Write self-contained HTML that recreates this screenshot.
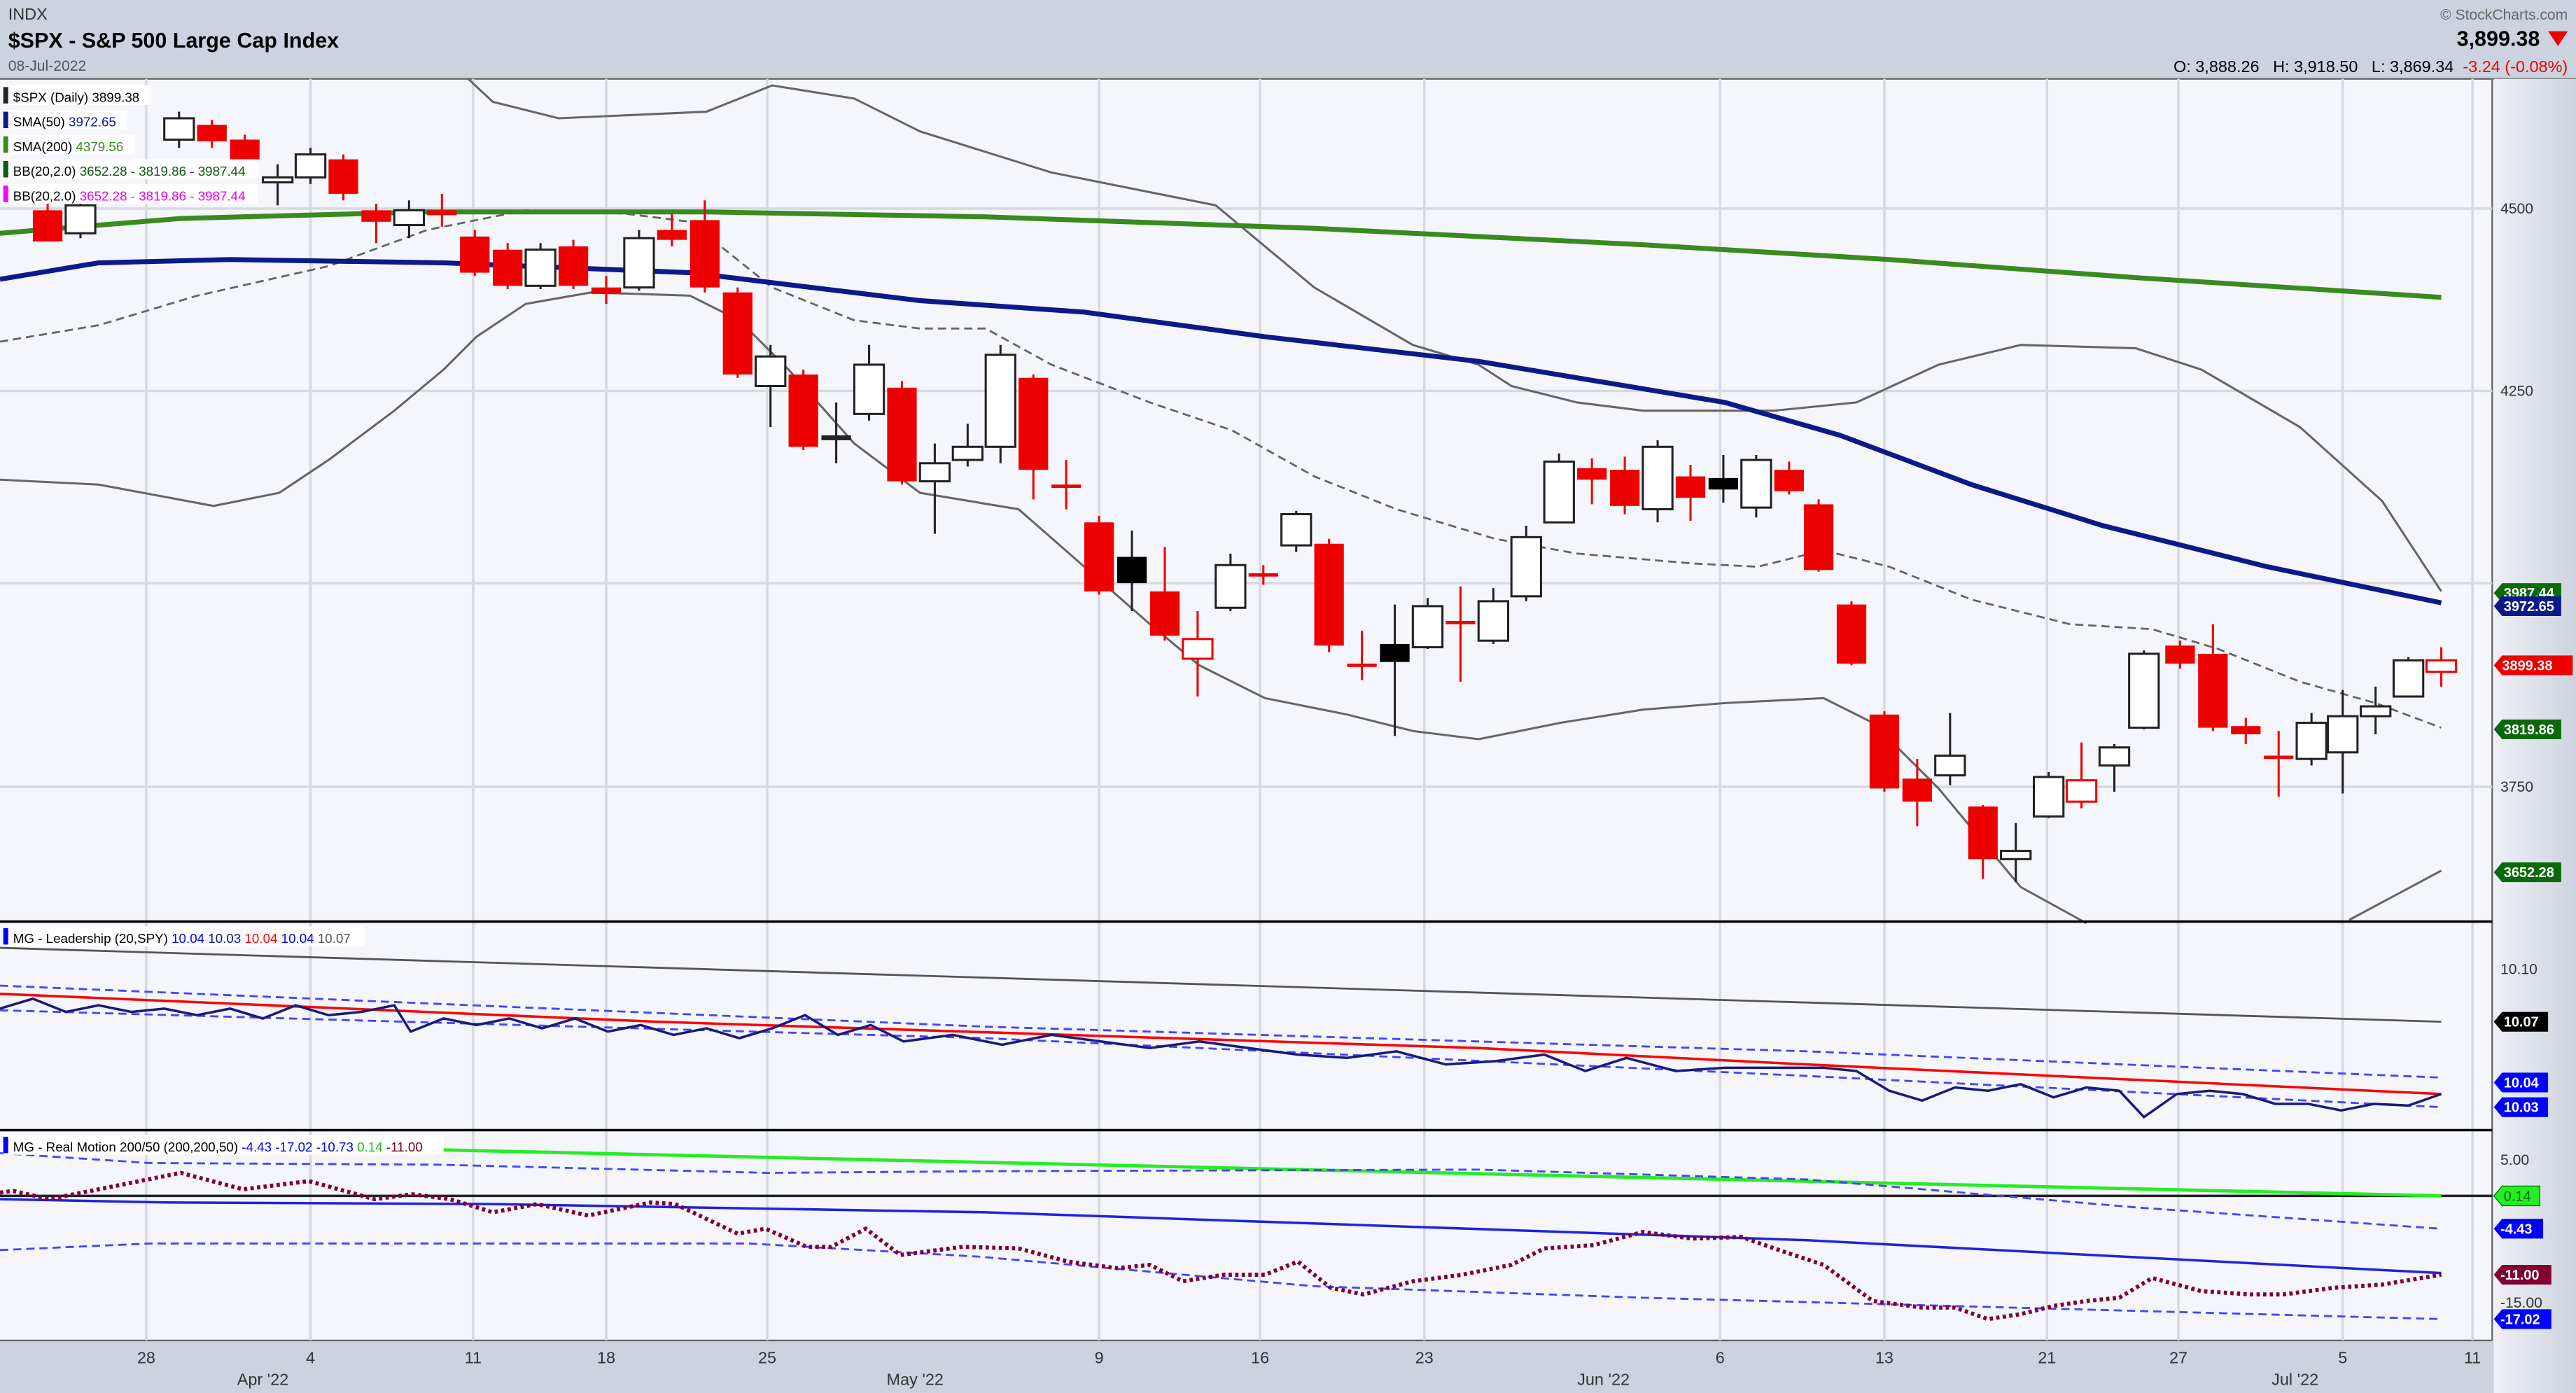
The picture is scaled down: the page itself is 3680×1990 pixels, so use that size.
<!DOCTYPE html>
<html><head><meta charset="utf-8"><style>
html,body{margin:0;padding:0;background:#fff}
svg{display:block;width:3680px;height:1990px}
text{font-family:"Liberation Sans",sans-serif}
</style></head><body>
<svg viewBox="0 0 1568 848" preserveAspectRatio="none" xmlns="http://www.w3.org/2000/svg">
<defs><linearGradient id="rg" x1="0" x2="1"><stop offset="0" stop-color="#eef0f5"/><stop offset="1" stop-color="#cdd3de"/></linearGradient></defs>
<rect width="1568" height="848" fill="#f4f6fb"/>
<rect x="0" y="0" width="1568" height="48" fill="#ccd3df"/>
<line x1="0" y1="48" x2="1568" y2="48" stroke="#666" stroke-width="1"/>
<rect x="1518" y="48" width="50" height="800" fill="url(#rg)"/>
<rect x="0" y="816" width="1518" height="32" fill="#ccd3df"/>
<line x1="1517" y1="48" x2="1517" y2="816" stroke="#666"/>
<line x1="0" y1="816" x2="1517" y2="816" stroke="#666"/>
<text x="5" y="12" font-size="10" fill="#333">INDX</text>
<text x="5" y="29" font-size="13" font-weight="bold" fill="#000">$SPX - S&amp;P 500 Large Cap Index</text>
<text x="5" y="43" font-size="9" fill="#555">08-Jul-2022</text>
<text x="1563" y="12" font-size="9" fill="#666" text-anchor="end">© StockCharts.com</text>
<text x="1546" y="28" font-size="13" font-weight="bold" fill="#000" text-anchor="end">3,899.38</text>
<polygon points="1551,19 1563,19 1557,28" fill="#e00"/>
<text x="1563" y="44" font-size="10" fill="#000" text-anchor="end">O: 3,888.26 &#160; H: 3,918.50 &#160; L: 3,869.34 &#160;<tspan fill="#e00">-3.24 (-0.08%)</tspan></text>
<g stroke="#d6d9e0" stroke-width="1.5">
<line x1="89" y1="48" x2="89" y2="816"/><line x1="189" y1="48" x2="189" y2="816"/><line x1="288" y1="48" x2="288" y2="816"/><line x1="369" y1="48" x2="369" y2="816"/><line x1="467" y1="48" x2="467" y2="816"/><line x1="669" y1="48" x2="669" y2="816"/><line x1="767" y1="48" x2="767" y2="816"/><line x1="867" y1="48" x2="867" y2="816"/><line x1="1047" y1="48" x2="1047" y2="816"/><line x1="1147" y1="48" x2="1147" y2="816"/><line x1="1246" y1="48" x2="1246" y2="816"/><line x1="1326" y1="48" x2="1326" y2="816"/><line x1="1426" y1="48" x2="1426" y2="816"/><line x1="1505" y1="48" x2="1505" y2="816"/>
<line x1="0" y1="127" x2="1517" y2="127"/><line x1="0" y1="238" x2="1517" y2="238"/><line x1="0" y1="355" x2="1517" y2="355"/><line x1="0" y1="479" x2="1517" y2="479"/>
</g>
<g font-size="9" fill="#333">
<text x="1522" y="130">4500</text><text x="1522" y="241">4250</text><text x="1522" y="482">3750</text>
<text x="1522" y="593">10.10</text><text x="1522" y="709">5.00</text><text x="1522" y="796">-15.00</text>
</g>
<g font-size="10" fill="#333" text-anchor="middle">
<text x="89" y="830">28</text><text x="189" y="830">4</text><text x="288" y="830">11</text><text x="369" y="830">18</text><text x="467" y="830">25</text><text x="669" y="830">9</text><text x="767" y="830">16</text><text x="867" y="830">23</text><text x="1047" y="830">6</text><text x="1147" y="830">13</text><text x="1246" y="830">21</text><text x="1326" y="830">27</text><text x="1426" y="830">5</text><text x="1505" y="830">11</text>
<text x="160" y="843">Apr '22</text><text x="557" y="843">May '22</text><text x="976" y="843">Jun '22</text><text x="1397" y="843">Jul '22</text>
</g>
<polyline fill="none" stroke="#666" stroke-width="1.3" points="285,48 300,62 340,72 430,68 470,52 520,60 560,80 640,105 740,125 800,175 860,210 900,222 920,235 960,245 1000,250 1080,250 1130,245 1180,222 1230,210 1300,212 1340,225 1400,260 1450,305 1486,360"/>
<polyline fill="none" stroke="#666" stroke-width="1.3" points="0,292 60,295 130,308 170,300 200,280 240,250 270,225 290,205 320,185 360,178 420,180 450,195 480,225 520,270 560,300 620,310 660,345 700,380 730,405 770,425 820,435 860,445 900,450 950,440 1000,432 1050,428 1110,425 1140,440 1180,480 1230,540 1270,562"/>
<polyline fill="none" stroke="#666" stroke-width="1.3" points="1430,560 1486,530"/>
<polyline fill="none" stroke="#666" stroke-width="1.2" stroke-dasharray="5,3" points="0,208 60,198 120,180 200,162 260,140 320,128 380,130 420,135 470,175 520,195 560,200 600,200 640,222 700,245 750,262 800,290 850,310 910,328 960,337 1030,343 1070,345 1110,335 1150,345 1200,365 1260,380 1310,383 1350,395 1400,415 1446,428 1486,443"/>
<polyline fill="none" stroke="#3a8a1e" stroke-width="3" points="0,142 110,133 260,129 430,129 600,132 800,139 1000,149 1150,158 1300,169 1486,181"/>
<polyline fill="none" stroke="#0a1a8a" stroke-width="3" points="0,170 60,160 140,158 270,160 420,166 560,183 660,190 770,205 900,220 960,230 1050,245 1120,265 1200,295 1280,320 1380,345 1486,367"/>
<g stroke-width="1.3">
<line x1="29" y1="120" x2="29" y2="147" stroke="#e00"/><rect x="20" y="128" width="18" height="19" fill="#e00"/>
<line x1="49" y1="118" x2="49" y2="145" stroke="#222"/><rect x="40" y="125" width="18" height="17" fill="#fff" stroke="#222"/>
<line x1="109" y1="68" x2="109" y2="90" stroke="#222"/><rect x="100" y="72" width="18" height="13" fill="#fff" stroke="#222"/>
<line x1="129" y1="73" x2="129" y2="90" stroke="#e00"/><rect x="120" y="76" width="18" height="10" fill="#e00"/>
<line x1="149" y1="82" x2="149" y2="100" stroke="#e00"/><rect x="140" y="85" width="18" height="12" fill="#e00"/>
<line x1="169" y1="100" x2="169" y2="125" stroke="#222"/><rect x="160" y="108" width="18" height="3" fill="#fff" stroke="#222"/>
<line x1="189" y1="90" x2="189" y2="112" stroke="#222"/><rect x="180" y="94" width="18" height="14" fill="#fff" stroke="#222"/>
<line x1="209" y1="94" x2="209" y2="122" stroke="#e00"/><rect x="200" y="97" width="18" height="21" fill="#e00"/>
<line x1="229" y1="124" x2="229" y2="148" stroke="#e00"/><rect x="220" y="128" width="18" height="7" fill="#e00"/>
<line x1="249" y1="122" x2="249" y2="145" stroke="#222"/><rect x="240" y="128" width="18" height="9" fill="#fff" stroke="#222"/>
<line x1="269" y1="118" x2="269" y2="138" stroke="#e00"/><rect x="260" y="128" width="18" height="3" fill="#e00"/>
<line x1="289" y1="140" x2="289" y2="168" stroke="#e00"/><rect x="280" y="144" width="18" height="22" fill="#e00"/>
<line x1="309" y1="148" x2="309" y2="176" stroke="#e00"/><rect x="300" y="152" width="18" height="22" fill="#e00"/>
<line x1="329" y1="148" x2="329" y2="176" stroke="#222"/><rect x="320" y="152" width="18" height="22" fill="#fff" stroke="#222"/>
<line x1="349" y1="146" x2="349" y2="176" stroke="#e00"/><rect x="340" y="150" width="18" height="24" fill="#e00"/>
<line x1="369" y1="168" x2="369" y2="185" stroke="#e00"/><rect x="360" y="175" width="18" height="4" fill="#e00"/>
<line x1="389" y1="140" x2="389" y2="177" stroke="#222"/><rect x="380" y="145" width="18" height="30" fill="#fff" stroke="#222"/>
<line x1="409" y1="130" x2="409" y2="150" stroke="#e00"/><rect x="400" y="140" width="18" height="6" fill="#e00"/>
<line x1="429" y1="122" x2="429" y2="178" stroke="#e00"/><rect x="420" y="134" width="18" height="41" fill="#e00"/>
<line x1="449" y1="175" x2="449" y2="230" stroke="#e00"/><rect x="440" y="178" width="18" height="50" fill="#e00"/>
<line x1="469" y1="210" x2="469" y2="260" stroke="#222"/><rect x="460" y="217" width="18" height="18" fill="#fff" stroke="#222"/>
<line x1="489" y1="225" x2="489" y2="274" stroke="#e00"/><rect x="480" y="228" width="18" height="44" fill="#e00"/>
<line x1="509" y1="245" x2="509" y2="282" stroke="#222"/><rect x="500" y="265" width="18" height="3" fill="#222"/>
<line x1="529" y1="210" x2="529" y2="256" stroke="#222"/><rect x="520" y="222" width="18" height="30" fill="#fff" stroke="#222"/>
<line x1="549" y1="232" x2="549" y2="295" stroke="#e00"/><rect x="540" y="236" width="18" height="57" fill="#e00"/>
<line x1="569" y1="270" x2="569" y2="325" stroke="#222"/><rect x="560" y="282" width="18" height="11" fill="#fff" stroke="#222"/>
<line x1="589" y1="258" x2="589" y2="284" stroke="#222"/><rect x="580" y="272" width="18" height="8" fill="#fff" stroke="#222"/>
<line x1="609" y1="210" x2="609" y2="282" stroke="#222"/><rect x="600" y="216" width="18" height="56" fill="#fff" stroke="#222"/>
<line x1="629" y1="228" x2="629" y2="304" stroke="#e00"/><rect x="620" y="230" width="18" height="56" fill="#e00"/>
<line x1="649" y1="280" x2="649" y2="310" stroke="#e00"/><rect x="640" y="295" width="18" height="2" fill="#e00"/>
<line x1="669" y1="314" x2="669" y2="362" stroke="#e00"/><rect x="660" y="318" width="18" height="42" fill="#e00"/>
<line x1="689" y1="323" x2="689" y2="372" stroke="#222"/><rect x="680" y="339" width="18" height="16" fill="#000"/>
<line x1="709" y1="333" x2="709" y2="390" stroke="#e00"/><rect x="700" y="360" width="18" height="27" fill="#e00"/>
<line x1="729" y1="372" x2="729" y2="424" stroke="#e00"/><rect x="720" y="389" width="18" height="12" fill="#fff" stroke="#e00"/>
<line x1="749" y1="337" x2="749" y2="372" stroke="#222"/><rect x="740" y="344" width="18" height="26" fill="#fff" stroke="#222"/>
<line x1="769" y1="344" x2="769" y2="356" stroke="#e00"/><rect x="760" y="349" width="18" height="2" fill="#e00"/>
<line x1="789" y1="311" x2="789" y2="336" stroke="#222"/><rect x="780" y="313" width="18" height="19" fill="#fff" stroke="#222"/>
<line x1="809" y1="328" x2="809" y2="397" stroke="#e00"/><rect x="800" y="331" width="18" height="62" fill="#e00"/>
<line x1="829" y1="384" x2="829" y2="414" stroke="#e00"/><rect x="820" y="404" width="18" height="2" fill="#e00"/>
<line x1="849" y1="368" x2="849" y2="448" stroke="#222"/><rect x="840" y="392" width="18" height="11" fill="#000"/>
<line x1="869" y1="364" x2="869" y2="395" stroke="#222"/><rect x="860" y="369" width="18" height="25" fill="#fff" stroke="#222"/>
<line x1="889" y1="357" x2="889" y2="415" stroke="#e00"/><rect x="880" y="378" width="18" height="2" fill="#e00"/>
<line x1="909" y1="358" x2="909" y2="392" stroke="#222"/><rect x="900" y="366" width="18" height="24" fill="#fff" stroke="#222"/>
<line x1="929" y1="320" x2="929" y2="366" stroke="#222"/><rect x="920" y="327" width="18" height="36" fill="#fff" stroke="#222"/>
<line x1="949" y1="276" x2="949" y2="318" stroke="#222"/><rect x="940" y="281" width="18" height="37" fill="#fff" stroke="#222"/>
<line x1="969" y1="279" x2="969" y2="307" stroke="#e00"/><rect x="960" y="285" width="18" height="7" fill="#e00"/>
<line x1="989" y1="278" x2="989" y2="313" stroke="#e00"/><rect x="980" y="286" width="18" height="22" fill="#e00"/>
<line x1="1009" y1="268" x2="1009" y2="318" stroke="#222"/><rect x="1000" y="272" width="18" height="38" fill="#fff" stroke="#222"/>
<line x1="1029" y1="283" x2="1029" y2="317" stroke="#e00"/><rect x="1020" y="290" width="18" height="13" fill="#e00"/>
<line x1="1049" y1="277" x2="1049" y2="306" stroke="#222"/><rect x="1040" y="291" width="18" height="7" fill="#000"/>
<line x1="1069" y1="277" x2="1069" y2="315" stroke="#222"/><rect x="1060" y="280" width="18" height="29" fill="#fff" stroke="#222"/>
<line x1="1089" y1="281" x2="1089" y2="301" stroke="#e00"/><rect x="1080" y="286" width="18" height="13" fill="#e00"/>
<line x1="1107" y1="304" x2="1107" y2="348" stroke="#e00"/><rect x="1098" y="307" width="18" height="40" fill="#e00"/>
<line x1="1127" y1="366" x2="1127" y2="405" stroke="#e00"/><rect x="1118" y="368" width="18" height="36" fill="#e00"/>
<line x1="1147" y1="433" x2="1147" y2="482" stroke="#e00"/><rect x="1138" y="435" width="18" height="45" fill="#e00"/>
<line x1="1167" y1="462" x2="1167" y2="503" stroke="#e00"/><rect x="1158" y="474" width="18" height="14" fill="#e00"/>
<line x1="1187" y1="434" x2="1187" y2="478" stroke="#222"/><rect x="1178" y="460" width="18" height="12" fill="#fff" stroke="#222"/>
<line x1="1207" y1="490" x2="1207" y2="535" stroke="#e00"/><rect x="1198" y="491" width="18" height="32" fill="#e00"/>
<line x1="1227" y1="501" x2="1227" y2="537" stroke="#222"/><rect x="1218" y="518" width="18" height="5" fill="#fff" stroke="#222"/>
<line x1="1247" y1="470" x2="1247" y2="498" stroke="#222"/><rect x="1238" y="473" width="18" height="24" fill="#fff" stroke="#222"/>
<line x1="1267" y1="452" x2="1267" y2="492" stroke="#e00"/><rect x="1258" y="475" width="18" height="13" fill="#fff" stroke="#e00"/>
<line x1="1287" y1="453" x2="1287" y2="482" stroke="#222"/><rect x="1278" y="455" width="18" height="11" fill="#fff" stroke="#222"/>
<line x1="1305" y1="396" x2="1305" y2="444" stroke="#222"/><rect x="1296" y="398" width="18" height="45" fill="#fff" stroke="#222"/>
<line x1="1327" y1="390" x2="1327" y2="407" stroke="#e00"/><rect x="1318" y="393" width="18" height="11" fill="#e00"/>
<line x1="1347" y1="380" x2="1347" y2="445" stroke="#e00"/><rect x="1338" y="398" width="18" height="45" fill="#e00"/>
<line x1="1367" y1="437" x2="1367" y2="453" stroke="#e00"/><rect x="1358" y="442" width="18" height="5" fill="#e00"/>
<line x1="1387" y1="445" x2="1387" y2="485" stroke="#e00"/><rect x="1378" y="460" width="18" height="2" fill="#e00"/>
<line x1="1407" y1="434" x2="1407" y2="466" stroke="#222"/><rect x="1398" y="440" width="18" height="22" fill="#fff" stroke="#222"/>
<line x1="1426" y1="420" x2="1426" y2="483" stroke="#222"/><rect x="1417" y="436" width="18" height="22" fill="#fff" stroke="#222"/>
<line x1="1446" y1="418" x2="1446" y2="447" stroke="#222"/><rect x="1437" y="430" width="18" height="6" fill="#fff" stroke="#222"/>
<line x1="1466" y1="400" x2="1466" y2="424" stroke="#222"/><rect x="1457" y="402" width="18" height="22" fill="#fff" stroke="#222"/>
<line x1="1486" y1="394" x2="1486" y2="418" stroke="#e00"/><rect x="1477" y="402" width="18" height="7" fill="#fff" stroke="#e00"/>
</g>
<g font-size="8" fill="#000">
<rect x="2" y="52" width="90" height="12" fill="#fff"/><rect x="2" y="53" width="3" height="10" fill="#222"/><text x="8" y="62">$SPX (Daily) 3899.38</text>
<rect x="2" y="67" width="75" height="12" fill="#fff"/><rect x="2" y="68" width="3" height="10" fill="#0a1a8a"/><text x="8" y="77">SMA(50) <tspan fill="#0a1a8a">3972.65</tspan></text>
<rect x="2" y="82" width="80" height="12" fill="#fff"/><rect x="2" y="83" width="3" height="10" fill="#3a8a1e"/><text x="8" y="92">SMA(200) <tspan fill="#3a8a1e">4379.56</tspan></text>
<rect x="2" y="97" width="155" height="12" fill="#fff"/><rect x="2" y="98" width="3" height="10" fill="#0a5a0a"/><text x="8" y="107">BB(20,2.0) <tspan fill="#0a5a0a">3652.28 - 3819.86 - 3987.44</tspan></text>
<rect x="2" y="112" width="155" height="12" fill="#fff"/><rect x="2" y="113" width="3" height="10" fill="#f0f"/><text x="8" y="122">BB(20,2.0) <tspan fill="#e0e">3652.28 - 3819.86 - 3987.44</tspan></text>
</g>
<g font-size="8.5" font-weight="bold" fill="#fff">
<path d="M1518,361 l5,-6 h36 v12 h-36z" fill="#0a6a0a"/><text x="1524" y="364">3987.44</text>
<path d="M1518,369 l5,-6 h36 v12 h-36z" fill="#0a1a8a"/><text x="1524" y="372">3972.65</text>
<path d="M1518,405 l5,-6 h43 v12 h-43z" fill="#e00"/><text x="1523" y="408">3899.38</text>
<path d="M1518,444 l5,-6 h36 v12 h-36z" fill="#0a6a0a"/><text x="1524" y="447">3819.86</text>
<path d="M1518,531 l5,-6 h36 v12 h-36z" fill="#0a6a0a"/><text x="1524" y="534">3652.28</text>
<path d="M1518,622 l5,-6 h28 v12 h-28z" fill="#000"/><text x="1524" y="625">10.07</text>
<path d="M1518,659 l5,-6 h28 v12 h-28z" fill="#00f"/><text x="1524" y="662">10.04</text>
<path d="M1518,674 l5,-6 h28 v12 h-28z" fill="#00f"/><text x="1524" y="677">10.03</text>
<path d="M1518,728 l5,-6 h23 v12 h-23z" fill="#2e2" stroke="#060" stroke-width="0.5"/><text x="1524" y="731" fill="#060" font-weight="normal">0.14</text>
<path d="M1518,748 l5,-6 h25 v12 h-25z" fill="#00f"/><text x="1522" y="751">-4.43</text>
<path d="M1518,776 l5,-6 h30 v12 h-30z" fill="#800030"/><text x="1522" y="779">-11.00</text>
<path d="M1518,803 l5,-6 h30 v12 h-30z" fill="#00f"/><text x="1522" y="806">-17.02</text>
</g>
<line x1="0" y1="561" x2="1517" y2="561" stroke="#000" stroke-width="1.5"/>
<line x1="0" y1="688" x2="1517" y2="688" stroke="#000" stroke-width="1.5"/>
<polyline fill="none" stroke="#555" stroke-width="1.2" points="0,577 1486,622"/>
<polyline fill="none" stroke="#44f" stroke-width="1.2" stroke-dasharray="5,3" points="0,600 600,625 1100,640 1486,656"/>
<polyline fill="none" stroke="#44f" stroke-width="1.2" stroke-dasharray="5,3" points="0,615 600,632 1100,655 1486,674"/>
<polyline fill="none" stroke="#f00" stroke-width="1.5" points="0,605 400,622 900,638 1100,648 1486,666"/>
<polyline fill="none" stroke="#1a1a7a" stroke-width="1.5" points="0,614 20,608 40,616 60,612 80,616 100,614 120,618 140,614 160,620 180,612 200,618 220,616 240,612 250,628 270,620 290,624 310,620 330,626 350,620 370,628 390,624 410,630 430,626 450,632 470,626 490,618 510,630 530,624 550,634 580,630 610,636 640,630 670,634 700,638 730,634 760,638 790,642 820,644 850,640 880,648 910,646 940,642 965,652 990,644 1020,652 1050,650 1080,650 1110,650 1130,652 1150,664 1170,670 1190,662 1210,664 1230,660 1250,668 1270,662 1290,664 1305,680 1325,666 1345,664 1365,666 1385,672 1405,672 1425,676 1445,672 1466,673 1486,666"/>
<rect x="2" y="564" width="220" height="12" fill="#fff"/><rect x="2" y="565" width="3" height="10" fill="#00f"/>
<text x="8" y="574" font-size="8">MG - Leadership (20,SPY) <tspan fill="#00f">10.04</tspan> <tspan fill="#1a1a7a">10.03</tspan> <tspan fill="#f00">10.04</tspan> <tspan fill="#00f">10.04</tspan> <tspan fill="#555">10.07</tspan></text>
<line x1="0" y1="728" x2="1517" y2="728" stroke="#222" stroke-width="1.5"/>
<polyline fill="none" stroke="#2e2" stroke-width="2" points="270,700 1486,728"/>
<polyline fill="none" stroke="#44f" stroke-width="1.2" stroke-dasharray="5,3" points="0,702 91,708 266,709 468,714 596,713 900,712 1100,718 1300,735 1486,748"/>
<polyline fill="none" stroke="#44f" stroke-width="1.2" stroke-dasharray="5,3" points="0,761 91,757 456,757 596,765 800,783 1000,790 1486,803"/>
<polyline fill="none" stroke="#22d" stroke-width="1.5" points="0,730 100,732 300,733 600,738 1100,755 1486,775"/>
<polyline fill="none" stroke="#800030" stroke-width="2.5" stroke-dasharray="2,2" points="0,726 8,725 30,730 110,714 148,724 188,719 228,730 251,727 274,730 300,738 327,733 358,740 396,732 411,733 449,751 466,748 491,759 506,759 527,748 548,764 586,759 620,760 650,768 680,772 700,770 720,780 745,776 770,776 790,768 810,784 830,788 860,780 890,776 920,770 940,760 970,758 1000,750 1030,754 1060,753 1080,760 1110,770 1140,792 1170,796 1190,796 1210,803 1230,800 1250,795 1270,792 1290,790 1310,778 1340,786 1370,788 1390,788 1420,784 1450,782 1486,776"/>
<rect x="2" y="691" width="268" height="12" fill="#fff"/><rect x="2" y="692" width="3" height="10" fill="#00f"/>
<text x="8" y="701" font-size="8">MG - Real Motion 200/50 (200,200,50) <tspan fill="#00f">-4.43 -17.02 -10.73</tspan> <tspan fill="#2b2">0.14</tspan> <tspan fill="#800030">-11.00</tspan></text>
</svg>
</body></html>
